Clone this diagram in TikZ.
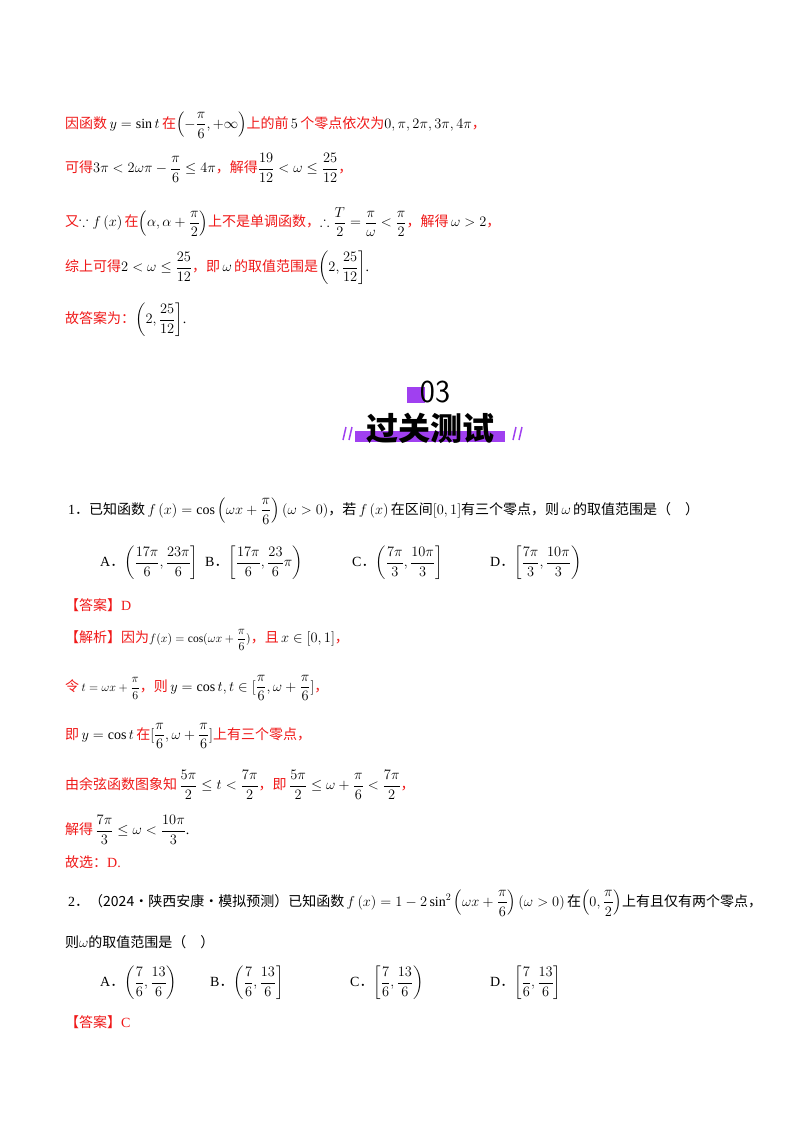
\documentclass[tikz,border=0pt]{standalone}
\usepackage{amsmath,amssymb}
\usepackage{fontspec}
\setmainfont{Liberation Serif}
\newfontfamily\cjk{Noto Sans CJK SC}
\definecolor{rd}{HTML}{F01818}
\definecolor{pp}{HTML}{A040F0}
\begin{document}
\begin{tikzpicture}[x=1pt,y=-1pt,
  ln/.style={anchor=west,inner sep=0pt,font=\fontsize{14}{16}\selectfont},
  rl/.style={ln,text=rd}]
\useasboundingbox[fill=white] (0,0) rectangle (800,1132);
\newcommand\R[1]{\textcolor{rd}{\cjk #1}}
\newcommand\K[1]{{\cjk #1}}
\newcommand\sm{\fontsize{11.5}{13}\selectfont}
\node[ln] (l1) at (65,125) {\R{因函数}\,$y=\sin t$\,\R{在}$\left(-\dfrac{\pi}{6},+\infty\right)$\R{上的前}\,$5$\,\R{个零点依次为}$0,\pi,2\pi,3\pi,4\pi$\R{，}};
\node[ln] (l2) at (65,168) {\R{可得}$3\pi<2\omega\pi-\dfrac{\pi}{6}\le4\pi$\R{，解得}$\dfrac{19}{12}<\omega\le\dfrac{25}{12}$\R{，}};
\node[ln] (l3) at (65,222) {\R{又}$\because f\left(x\right)$\,\R{在}$\left(\alpha,\alpha+\dfrac{\pi}{2}\right)$\R{上不是单调函数，}$\therefore\dfrac{T}{2}=\dfrac{\pi}{\omega}<\dfrac{\pi}{2}$\R{，解得}\,$\omega>2$\R{，}};
\node[ln] (l4) at (65,268) {\R{综上可得}$2<\omega\le\dfrac{25}{12}$\R{，即}\,$\omega$\,\R{的取值范围是}$\left(2,\dfrac{25}{12}\right]$.};
\node[ln] (l5) at (65,320) {\R{故答案为：}$\left(2,\dfrac{25}{12}\right]$.};
% header
\fill[pp] (407,387) rectangle (425,403);
\node[inner sep=0pt,font=\fontsize{32}{32}\selectfont\sffamily] (h1) at (435,392) {03};
\fill[pp] (355,431) rectangle (505,442);
\node[inner sep=0pt,font=\fontsize{32}{32}\selectfont\cjk\bfseries] (h2) at (430,428) {过关测试};
\foreach \x in {343,349,513,519} \draw[pp,line width=1.5pt] (\x,440) -- (\x+3,427);
% Q1
\node[ln] (q1) at (68,511) {1\K{．已知函数}\,$f\left(x\right)=\cos\left(\omega x+\dfrac{\pi}{6}\right)(\omega>0)$\K{，若}\,$f\left(x\right)$\,\K{在区间}$\left[0,1\right]$\K{有三个零点，则}\,$\omega$\,\K{的取值范围是（　）}};
\node[ln] (a1) at (100,563) {A\K{．}$\left(\dfrac{17\pi}{6},\dfrac{23\pi}{6}\right]$};
\node[ln] (b1) at (205,563) {B\K{．}$\left[\dfrac{17\pi}{6},\dfrac{23}{6}\pi\right)$};
\node[ln] (c1) at (352,563) {C\K{．}$\left(\dfrac{7\pi}{3},\dfrac{10\pi}{3}\right]$};
\node[ln] (d1) at (490,563) {D\K{．}$\left[\dfrac{7\pi}{3},\dfrac{10\pi}{3}\right)$};
\node[rl] (ans1) at (65,605) {\cjk 【答案】\rmfamily D};
\node[ln] (s1) at (65,640) {\R{【解析】因为}{\sm$f(x)=\cos(\omega x+\dfrac{\pi}{6})$}\R{，且}\,$x\in[0,1]$\R{，}};
\node[ln] (s2) at (65,688) {\R{令}\,{\sm$t=\omega x+\dfrac{\pi}{6}$}\R{，则}\,$y=\cos t,t\in[\dfrac{\pi}{6},\omega+\dfrac{\pi}{6}]$\R{，}};
\node[ln] (s3) at (65,736) {\R{即}\,$y=\cos t$\,\R{在}$[\dfrac{\pi}{6},\omega+\dfrac{\pi}{6}]$\R{上有三个零点，}};
\node[ln] (s4) at (65,785) {\R{由余弦函数图象知}\,$\dfrac{5\pi}{2}\le t<\dfrac{7\pi}{2}$\R{，即}\,$\dfrac{5\pi}{2}\le\omega+\dfrac{\pi}{6}<\dfrac{7\pi}{2}$\R{，}};
\node[ln] (s5) at (65,830) {\R{解得}\,$\dfrac{7\pi}{3}\le\omega<\dfrac{10\pi}{3}$.};
\node[rl] (s6) at (65,862) {\cjk 故选：\rmfamily D.};
% Q2
\node[ln] (q2) at (68,903) {2\K{．（2024·陕西安康·模拟预测）已知函数}\,$f\left(x\right)=1-2\sin^2\left(\omega x+\dfrac{\pi}{6}\right)(\omega>0)$\,\K{在}$\left(0,\dfrac{\pi}{2}\right)$\K{上有且仅有两个零点，}};
\node[ln] (q2b) at (65,942) {\K{则}$\omega$\K{的取值范围是（　）}};
\node[ln] (a2) at (100,983) {A\K{．}$\left(\dfrac{7}{6},\dfrac{13}{6}\right)$};
\node[ln] (b2) at (210,983) {B\K{．}$\left(\dfrac{7}{6},\dfrac{13}{6}\right]$};
\node[ln] (c2) at (350,983) {C\K{．}$\left[\dfrac{7}{6},\dfrac{13}{6}\right)$};
\node[ln] (d2) at (490,983) {D\K{．}$\left[\dfrac{7}{6},\dfrac{13}{6}\right]$};
\node[rl] (ans2) at (65,1022) {\cjk 【答案】\rmfamily C};
\end{tikzpicture}
\end{document}
